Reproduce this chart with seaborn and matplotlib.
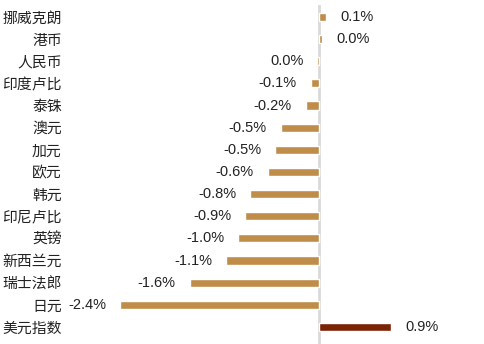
import matplotlib
matplotlib.use("Agg")
import matplotlib.pyplot as plt
import seaborn as sns
import pandas as pd

categories = ["挪威克朗", "港币", "人民币", "印度卢比", "泰铢", "澳元", "加元", "欧元",
              "韩元", "印尼卢比", "英镑", "新西兰元", "瑞士法郎", "日元", "美元指数"]
values = [0.09, 0.04, -0.02, -0.10, -0.16, -0.46, -0.53, -0.62,
          -0.83, -0.89, -0.97, -1.12, -1.56, -2.40, 0.87]
labels = ["0.1%", "0.0%", "0.0%", "-0.1%", "-0.2%", "-0.5%", "-0.5%", "-0.6%",
          "-0.8%", "-0.9%", "-1.0%", "-1.1%", "-1.6%", "-2.4%", "0.9%"]

sns.set_theme(style="white")
plt.rcParams["font.family"] = ["Noto Sans CJK SC", "DejaVu Sans"]

df = pd.DataFrame({"cat": categories, "val": values})
tan = "#C08C4A"
dark = "#7A2305"
palette = {c: (dark if c == "美元指数" else tan) for c in categories}

W, H = 485, 344
fig = plt.figure(figsize=(W / 100, H / 100), dpi=100)
left, right, top, bottom = 68, 485, 5, 0
ax = fig.add_axes([left / W, bottom / H, (right - left) / W, (H - top - bottom) / H])

sns.barplot(data=df, x="val", y="cat", hue="cat", palette=palette, legend=False,
            width=0.37, orient="h", ax=ax, saturation=1)

ax.set_xlim(-(319 - left) / 83.0, (right - 319) / 83.0)
ax.set_ylim(14.77, -0.54)
for s in ax.spines.values():
    s.set_visible(False)
ax.axvline(0, color="#d9d9d9", lw=2, zorder=0)
ax.set_xticks([])
ax.set_xlabel("")
ax.set_ylabel("")
ax.tick_params(axis="y", length=0, pad=4.5, labelsize=10.7, labelcolor="#222222")

for i, (v, lab) in enumerate(zip(values, labels)):
    if v < 0:
        ax.annotate(lab, xy=(v, i), xytext=(-10, 0), textcoords="offset points",
                    ha="right", va="center", fontsize=10.5, color="#222222",
                    family=["Liberation Sans", "DejaVu Sans"])
    else:
        ax.annotate(lab, xy=(v, i), xytext=(10, 0), textcoords="offset points",
                    ha="left", va="center", fontsize=10.5, color="#222222",
                    family=["Liberation Sans", "DejaVu Sans"])

fig.savefig("out.png", dpi=100)
